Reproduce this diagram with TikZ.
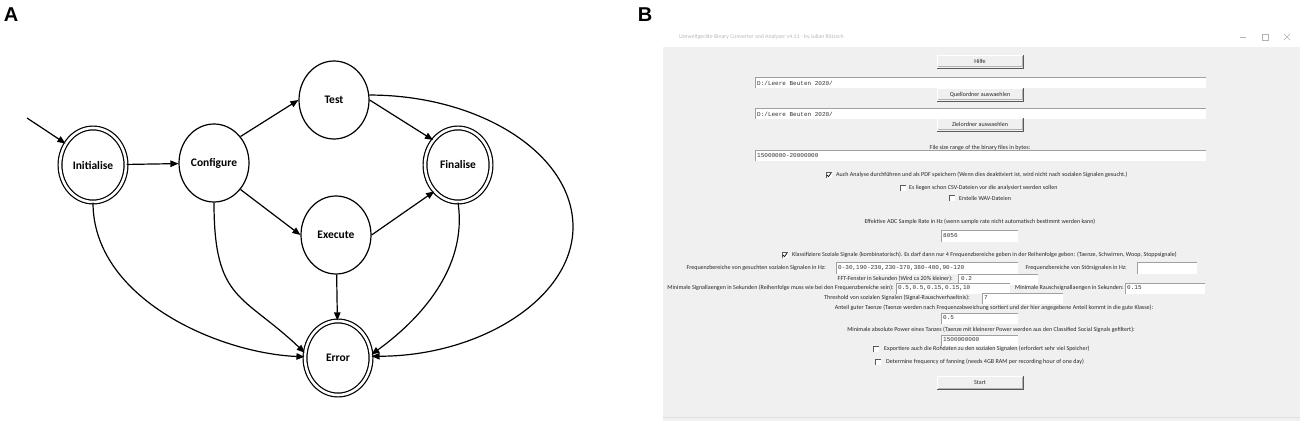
\documentclass[tikz,border=0pt]{standalone}
\usepackage{fontspec}
\usetikzlibrary{shapes.geometric,arrows.meta}
\newfontfamily\carl{Carlito}
\newfontfamily\monof{Liberation Mono}
\newfontfamily\arialf{Liberation Sans}
\definecolor{guibg}{HTML}{F0F0F0}
\definecolor{btndark}{HTML}{5A5A5A}
\definecolor{fieldline}{HTML}{A0A0A0}
\newcommand\guibtn[5]{%
  \fill[guibg] (#1,#2) rectangle (#3,#4);
  \draw[white,line width=0.8pt] (#1,#4) -- (#1,#2) -- (#3,#2);
  \draw[btndark,line width=0.9pt] (#1,#4) -- (#3,#4) -- (#3,#2);
  \draw[gray!60,line width=0.6pt] (#1+1,#4-1.2) -- (#3-1.2,#4-1.2) -- (#3-1.2,#2+1);
  \node[gtxt] (#5) at ({(#1+#3)/2},{(#2+#4)/2}) {#5};}
\newcommand\guifield[4]{%
  \fill[white] (#1,#2) rectangle (#3,#4);
  \draw[fieldline,line width=0.9pt] (#1,#4) -- (#1,#2) -- (#3,#2);}
\newcommand\guicb[3]{%
  \fill[white] (#1-3,#2-3) rectangle (#1+3,#2+3);
  \draw[gray!70!black,line width=0.6pt] (#1-3,#2+3) -- (#1-3,#2-3) -- (#1+3,#2-3);
  \ifnum#3=1 \draw[line width=0.7pt] (#1-2,#2) -- (#1-0.6,#2+1.6) -- (#1+2,#2-1.8);\fi}
\tikzset{
  st/.style={ellipse, draw, line width=1.2pt, minimum width=70pt, minimum height=78pt,
    inner sep=0pt, font=\carl\bfseries\fontsize{11.5}{13}\selectfont},
  acc/.style={st, double, double distance=2.6pt, minimum width=66pt, minimum height=74pt},
  arr/.style={line width=1.2pt, -{Triangle[length=8pt,width=6.5pt]}},
  gtxt/.style={font=\carl\fontsize{6.05}{7}\selectfont, inner sep=0pt, text=black!85},
  mtxt/.style={font=\monof\fontsize{6}{7}\selectfont, inner sep=0pt, anchor=west, text=black!80},
  panel/.style={font=\arialf\bfseries\fontsize{20}{22}\selectfont, inner sep=0pt}
}
\begin{document}
\begin{tikzpicture}[x=1pt,y=-1pt]
\useasboundingbox (0,0) rectangle (1300,425);
\fill[white] (0,0) rectangle (1300,425);

% ---------- Panel A ----------
\node[panel] (labA) at (11,15) {A};
\node[acc] (init) at (93,165) {Initialise};
\node[st] (conf) at (214,163) {Configure};
\node[st] (test) at (334,100) {Test};
\node[acc] (final) at (458,165) {Finalise};
\node[st] (exec) at (336,235) {Execute};
\node[acc] (error) at (338,358) {Error};
\coordinate (start) at (27,118);
\coordinate (loopR) at (573,227);

\draw[arr] (start) -- (init.142);
\draw[arr] (init) -- (conf);
\draw[arr] (conf.45) -- (test.west);
\draw[arr] (conf.-45) -- (exec.west);
\draw[arr] (test.east) -- (final.135);
\draw[arr] (exec.east) -- (final.228);
\draw[arr] (exec) -- (error);
\draw[arr] (init.south) .. controls +(0,95) and +(-88,-4) .. (error.178);
\draw[arr] (conf.south) .. controls +(0,99) and +(-62,-59) .. (error.171);
\draw[arr] (final.south) .. controls +(10,66) and +(47,-34) .. (error.6);
\draw[arr] (test.8) .. controls +(111,0) and +(0,-73) .. (loopR)
   .. controls +(0,71) and +(109,0) .. (error.3);

% ---------- Panel B ----------
\node[panel] (labB) at (645,15) {B};
\fill[guibg] (663,28) rectangle (1300,421);
\fill[white] (663,28) rectangle (1300,47);
\draw[gray!25,line width=0.6pt] (663,417) -- (1300,417);
\node[gtxt, anchor=west, text=gray!55, font=\carl\fontsize{5.8}{6}\selectfont] (title) at (679,37)
  {Umweltgeräte Binary Converter and Analyzer v4.11 - by Julian Rötzsch};
\draw[gray!60,line width=0.6pt] (1240,37) -- (1246,37);
\draw[gray!60,line width=0.6pt] (1262,34) rectangle (1268,40);
\draw[gray!60,line width=0.6pt] (1284,34) -- (1290,40) (1284,40) -- (1290,34);

\guibtn{937}{55}{1023}{68}{Hilfe}
\guifield{755}{77}{1206}{88}
\node[mtxt] (f1) at (757,83) {D:/Leere Beuten 2020/};
\guibtn{937}{88}{1023}{101}{Quellordner auswaehlen}
\guifield{755}{108}{1206}{119}
\node[mtxt] (f2) at (757,114) {D:/Leere Beuten 2020/};
\guibtn{937}{118}{1023}{131}{Zielordner auswaehlen}
\node[gtxt] (lsize) at (980,148) {File size range of the binary files in bytes:};
\guifield{755}{150}{1206}{161}
\node[mtxt] (f3) at (757,156) {15000000-20000000};

\guicb{829}{175}{1}
\node[gtxt, anchor=west] (c1) at (836,175) {Auch Analyse durchführen und als PDF speichern (Wenn dies deaktiviert ist, wird nicht nach sozialen Signalen gesucht.)};
\guicb{903}{188}{0}
\node[gtxt, anchor=west] (c2) at (909,188) {Es liegen schon CSV-Dateien vor die analysiert werden sollen};
\guicb{952}{198}{0}
\node[gtxt, anchor=west] (c3) at (959,198) {Erstelle WAV-Dateien};

\node[gtxt] (ladc) at (980,222) {Effektive ADC Sample Rate in Hz (wenn sample rate nicht automatisch bestimmt werden kann)};
\guifield{941}{230}{1018}{242}
\node[mtxt] (f4) at (943,236) {8056};

\guicb{785}{255}{1}
\node[gtxt, anchor=west] (c4) at (792,255) {Klassifiziere Soziale Signale (kombinatorisch). Es darf dann nur 4 Frequenzbereiche geben in der Reihenfolge geben: (Taenze, Schwirren, Woop, Stoppsignale)};

\node[gtxt, anchor=east] (lfb) at (826,268) {Frequenzbereiche von gesuchten sozialen Signalen in Hz:};
\guifield{836}{262}{1018}{274}
\node[mtxt] (f5) at (838,268) {0-30,190-230,230-370,380-400,90-120};
\node[gtxt, anchor=east] (lstoer) at (1127,268) {Frequenzbereiche von Störsignalen in Hz:};
\guifield{1137}{262}{1197}{274}

\node[gtxt, anchor=east] (lfft) at (953,279) {FFT-Fenster in Sekunden (Wird ca 20\% kleiner):};
\guifield{958}{274}{1038}{285}
\node[mtxt] (f6) at (961,279) {0.2};

\node[gtxt, anchor=east] (lsig) at (894,288) {Minimale Signallaengen in Sekunden (Reihenfolge muss wie bei den Frequenzbereiche sein):};
\guifield{896}{283}{1010}{294}
\node[mtxt] (f7) at (898,288) {0.5,0.5,0.15,0.15,10};
\node[gtxt, anchor=east] (lrausch) at (1124,288) {Minimale Rauschsignallaengen in Sekunden:};
\guifield{1125}{283}{1205}{294}
\node[mtxt] (f8) at (1127,288) {0.15};

\node[gtxt, anchor=east] (lthr) at (970,298) {Threshold von sozialen Signalen (Signal-Rauschverhaeltnis):};
\guifield{982}{293}{1063}{304}
\node[mtxt] (f9) at (984,298) {7};

\node[gtxt] (lanteil) at (994,308) {Anteil guter Taenze (Taenze werden nach Frequenzabweichung sortiert und der hier angegebene Anteil kommt in die gute Klasse):};
\guifield{941}{313}{1018}{324}
\node[mtxt] (f10) at (943,318) {0.5};

\node[gtxt] (lpower) at (991,330) {Minimale absolute Power eines Tanzes (Taenze mit kleinerer Power werden aus den Classified Social Signals gefiltert):};
\guifield{941}{335}{1018}{346}
\node[mtxt] (f11) at (943,340) {1500000000};

\guicb{876}{349}{0}
\node[gtxt, anchor=west] (c5) at (884,349) {Exportiere auch die Rohdaten zu den sozialen Signalen (erfordert sehr viel Speicher)};
\guicb{878}{362}{0}
\node[gtxt, anchor=west] (c6) at (886,362) {Determine frequency of fanning (needs 4GB RAM per recording hour of one day)};

\guibtn{937}{376}{1023}{389}{Start}
\end{tikzpicture}
\end{document}
